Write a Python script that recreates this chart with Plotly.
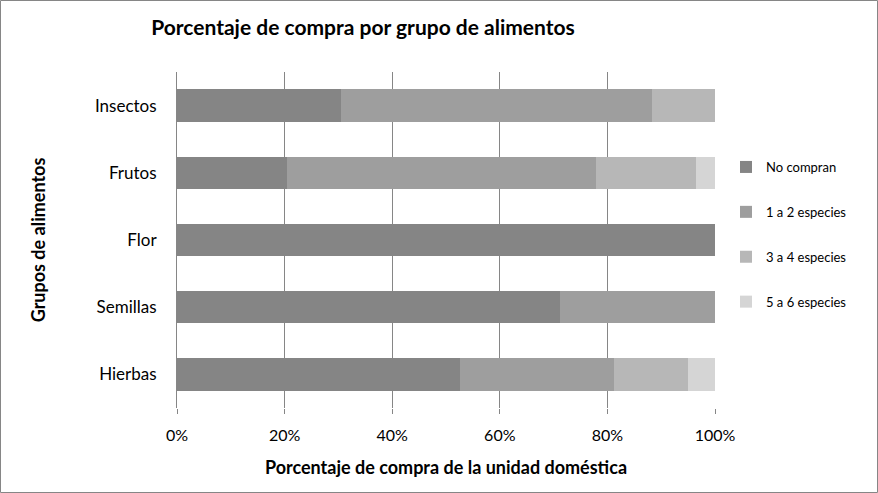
import plotly.graph_objects as go

categories = ["Hierbas", "Semillas", "Flor", "Frutos", "Insectos"]
series_names = ["No compran", "1 a 2 especies", "3 a 4 especies", "5 a 6 especies"]
no_compran = [52.6, 71.2, 100.0, 20.4, 30.4]
uno_a_dos = [28.7, 28.8, 0.0, 57.5, 57.8]
tres_a_cuatro = [13.6, 0.0, 0.0, 18.6, 11.8]
cinco_a_seis = [5.1, 0.0, 0.0, 3.5, 0.0]
x_ticks = [0, 20, 40, 60, 80, 100]
x_tick_labels = ["0%", "20%", "40%", "60%", "80%", "100%"]

series_values = [no_compran, uno_a_dos, tres_a_cuatro, cinco_a_seis]
colors = ["#858585", "#9e9e9e", "#b7b7b7", "#d5d5d5"]

FONT = "Lato"
W, H = 878, 493
ML, MR, MT, MB = 177, 163, 72, 85

fig = go.Figure()
for name, vals, col in zip(series_names, series_values, colors):
    fig.add_trace(go.Bar(
        y=categories, x=vals, name=name, orientation="h",
        marker=dict(color=col, line=dict(width=0)),
        legendgroup=name,
    ))

pw = W - ML - MR
ph = H - MT - MB
fig.update_layout(
    width=W, height=H,
    barmode="stack", bargap=0.52,
    paper_bgcolor="white", plot_bgcolor="white",
    margin=dict(l=ML, r=MR, t=MT, b=MB, autoexpand=False),
    font=dict(family=FONT, color="#000000"),
    title=dict(text="<b>Porcentaje de compra por grupo de alimentos</b>",
               x=363 / W, xanchor="center", xref="container",
               y=1 - 28 / H, yanchor="middle", yref="container",
               font=dict(size=21, family=FONT, color="#000")),
    xaxis=dict(range=[0, 100], tickmode="array", tickvals=x_ticks, ticktext=x_tick_labels,
               showgrid=True, gridcolor="#868686", gridwidth=1,
               ticks="outside", ticklen=5, tickcolor="#868686",
               ticklabelstandoff=8,
               showline=False, zeroline=False,
               tickfont=dict(size=16, family=FONT),
               title=dict(text="<b>Porcentaje de compra de la unidad doméstica</b>",
                          font=dict(size=18, family=FONT), standoff=18)),
    yaxis=dict(showline=True, linecolor="#868686", linewidth=1,
               ticks="", tickfont=dict(size=17, family=FONT),
               ticklabelstandoff=16,
               title=dict(text="<b>Grupos de alimentos</b>",
                          font=dict(size=18, family=FONT), standoff=44)),
    legend=dict(x=(726 - ML) / pw, y=1 - (152 - MT) / ph, xanchor="left", yanchor="top",
                traceorder="grouped", tracegroupgap=25,
                font=dict(size=13, family=FONT), itemwidth=30,
                bgcolor="rgba(0,0,0,0)"),
    shapes=[dict(type="rect", xref="paper", yref="paper",
                 x0=-(ML - 0.5) / pw, x1=1 + (MR - 0.5) / pw,
                 y0=-(MB - 0.5) / ph, y1=1 + (MT - 0.5) / ph,
                 line=dict(color="#868686", width=1), layer="above")],
)

fig.write_html("out.html", config={"displayModeBar": False},
               post_script="document.body.style.margin='0';document.body.style.overflow='hidden';")
